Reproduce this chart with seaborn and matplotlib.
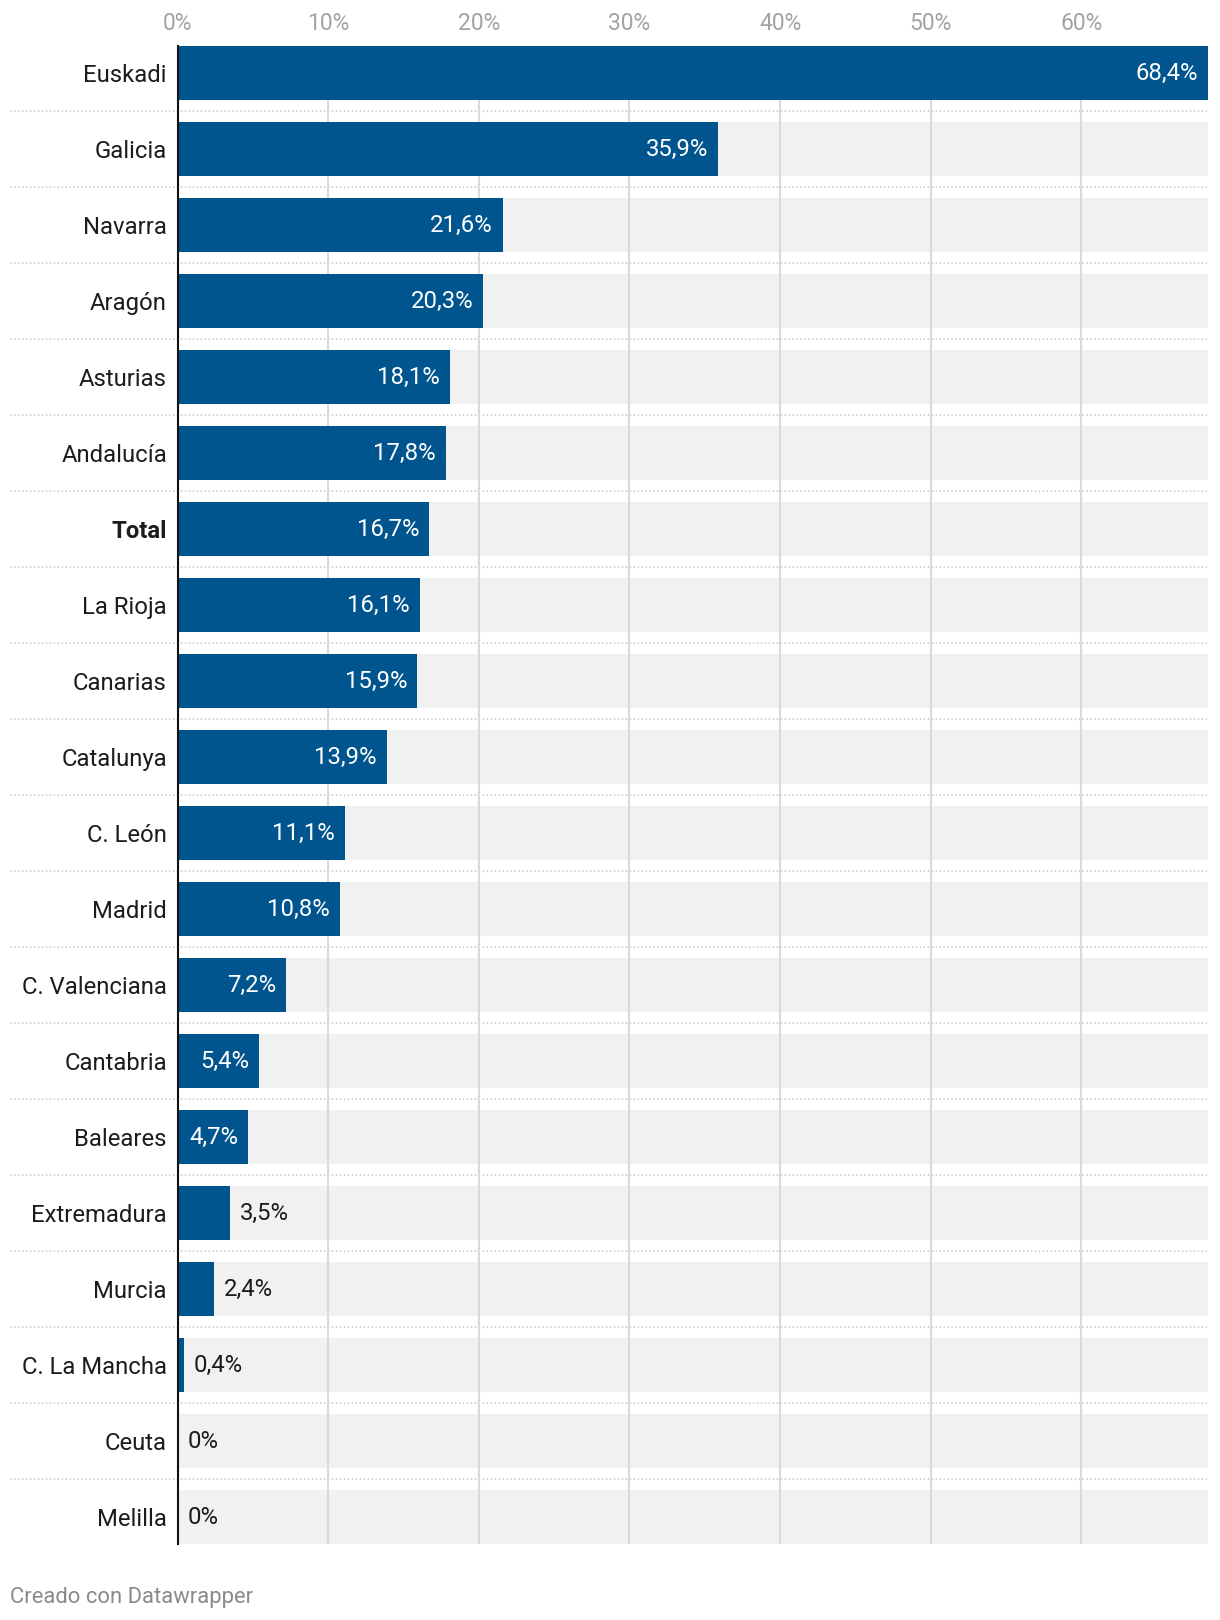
import matplotlib
matplotlib.use("Agg")
import matplotlib.pyplot as plt
import seaborn as sns
import pandas as pd
import numpy as np

categories = ["Euskadi", "Galicia", "Navarra", "Aragón", "Asturias", "Andalucía",
              "Total", "La Rioja", "Canarias", "Catalunya", "C. León", "Madrid",
              "C. Valenciana", "Cantabria", "Baleares", "Extremadura", "Murcia",
              "C. La Mancha", "Ceuta", "Melilla"]
values = [68.4, 35.9, 21.6, 20.3, 18.1, 17.8, 16.7, 16.1, 15.9, 13.9, 11.1, 10.8,
          7.2, 5.4, 4.7, 3.5, 2.4, 0.4, 0.0, 0.0]
tick_values = [0, 10, 20, 30, 40, 50, 60]
tick_labels = ["0%", "10%", "20%", "30%", "40%", "50%", "60%"]
credit = "Creado con Datawrapper"

BLUE = "#01558f"
BG = "#f1f1f1"
GRID = "#dadada"
TEXT = "#1c1c1c"

sns.set_theme(style="white")
plt.rcParams["font.family"] = ["Roboto", "DejaVu Sans"]

W, H = 1220, 1620
fig = plt.figure(figsize=(W / 100, H / 100), dpi=100)
left_px, right_px, top_px, bot_px = 177.5, 1208, 46, 1544
ax = fig.add_axes([left_px / W, 1 - bot_px / H, (right_px - left_px) / W, (bot_px - top_px) / H])

xmax = max(values)
df = pd.DataFrame({"cat": categories, "val": values, "bg": [xmax] * len(values)})

bw = 0.71
sns.barplot(data=df, y="cat", x="bg", orient="h", color=BG, width=bw,
            linewidth=0, saturation=1, ax=ax, zorder=1)
for t in tick_values:
    ax.axvline(t, color=GRID, lw=1.5, zorder=1.5)
sns.barplot(data=df, y="cat", x="val", orient="h", color=BLUE, width=bw,
            linewidth=0, saturation=1, ax=ax, zorder=2)

n = len(categories)
ax.set_xlim(0, xmax)
ax.set_ylim(n - 1 + bw / 2, -bw / 2)

# dotted separators
xstart = (10 - left_px) / (right_px - left_px)
trans = matplotlib.transforms.blended_transform_factory(ax.transAxes, ax.transData)
for i in range(n - 1):
    ax.plot([xstart, 1], [i + 0.5, i + 0.5], transform=trans, color="#c4c4c4",
            lw=1.1, ls=(0, (1, 1.6)), clip_on=False, zorder=0.5)

# value labels
for i, v in enumerate(values):
    lab = (f"{v:.1f}".replace(".", ",") + "%") if v > 0 else "0%"
    if v > 4:
        ax.annotate(lab, (v, i), xytext=(-7.2, 0), textcoords="offset points",
                    ha="right", va="center", color="white", fontsize=17.2, zorder=3)
    else:
        ax.annotate(lab, (v, i), xytext=(7.0, 0), textcoords="offset points",
                    ha="left", va="center", color=TEXT, fontsize=17.2, zorder=3)

# axes styling
ax.xaxis.tick_top()
ax.set_xticks(tick_values)
ax.set_xticklabels(tick_labels)
ax.tick_params(axis="x", length=0, pad=7.6, labelsize=16.5, labelcolor="#a3a3a3")
ax.set_yticks(range(n))
ax.set_yticklabels(categories)
ax.tick_params(axis="y", length=0, pad=7.6, labelsize=17.2, labelcolor=TEXT)
for lbl in ax.get_yticklabels():
    if lbl.get_text() == "Total":
        lbl.set_fontweight("bold")
ax.set_xlabel("")
ax.set_ylabel("")
for s in ["top", "right", "bottom"]:
    ax.spines[s].set_visible(False)
ax.spines["left"].set_color("#111111")
ax.spines["left"].set_linewidth(1.5)
ax.spines["left"].set_zorder(4)
ax.grid(False)

fig.text(10 / W, 1 - 1597 / H, credit, ha="left", va="center", fontsize=15.8, color="#8a8a8a")

fig.savefig("out.png", dpi=100, facecolor="white")
